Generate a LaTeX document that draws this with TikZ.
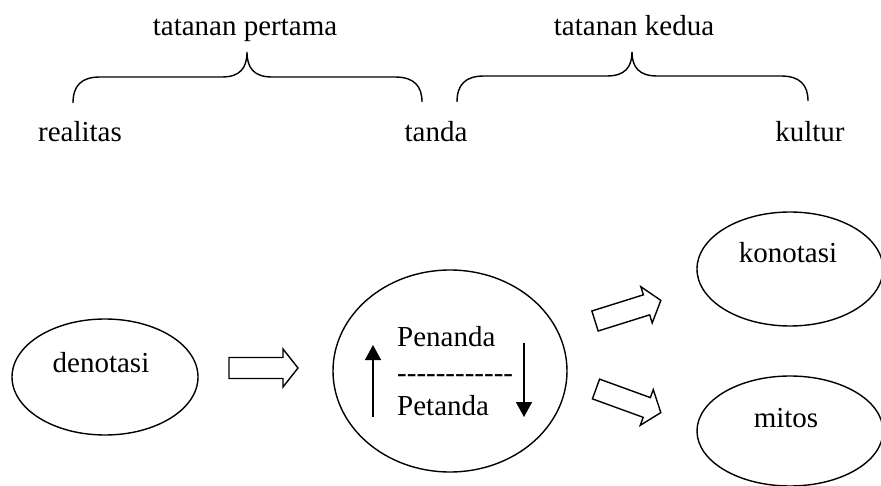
\documentclass[tikz,border=0pt]{standalone}
\usepackage{fontspec}
\setmainfont{Liberation Serif}
\usetikzlibrary{shapes.geometric,arrows.meta}
\tikzset{
  lbl/.style={anchor=base,inner sep=0pt,font=\fontsize{29}{32}\selectfont},
  lblw/.style={anchor=base west,inner sep=0pt,font=\fontsize{29}{32}\selectfont},
  oval/.style={draw,ellipse,line width=1.4pt,inner sep=0pt},
  brace/.style={draw,line width=1.4pt},
  barrow/.pic={\draw[line width=1.4pt,line join=miter] (0,-10.5)--(54,-10.5)--(54,-19)--(69,0)--(54,19)--(54,10.5)--(0,10.5)--cycle;},
  vline/.style={line width=1.4pt,-{Triangle[width=16pt,length=15pt]}}
}
\begin{document}
\begin{tikzpicture}[x=1pt,y=-1pt]
\useasboundingbox (0,0) rectangle (881,486);
\clip (0,0) rectangle (881,486);
% top labels
\node[lbl] (tp) at (245,36) {tatanan pertama};
\node[lbl] (tk) at (634,36) {tatanan kedua};
\node[lbl] (re) at (80,142) {realitas};
\node[lbl] (ta) at (436,142) {tanda};
\node[lbl] (ku) at (810,142) {kultur};
% braces
\draw[brace] (73,103) .. controls (73,86) and (81,77) .. (100,77) -- (222,77)
  .. controls (240,77) and (247,68) .. (247,52)
  .. controls (247,68) and (254,77) .. (272,77) -- (395,77)
  .. controls (414,77) and (422,86) .. (422,102);
\draw[brace] (457,102) .. controls (457,85) and (465,76) .. (484,76) -- (607,76)
  .. controls (625,76) and (632,67) .. (632,52)
  .. controls (632,67) and (639,76) .. (657,76) -- (781,76)
  .. controls (800,76) and (808,85) .. (808,101);
% ellipses
\node[oval,minimum width=186pt,minimum height=116pt] (den) at (105,377) {};
\node[lbl] (dent) at (101,372) {denotasi};
\node[oval,minimum width=234pt,minimum height=202pt] (mid) at (450,371) {};
\node[oval,minimum width=186pt,minimum height=114pt] (kon) at (790,269) {};
\node[lbl] (kont) at (788,263) {konotasi};
\node[oval,minimum width=186pt,minimum height=110pt] (mit) at (790,431) {};
\node[lbl] (mitt) at (786,427) {mitos};
% inner texts
\node[lblw] (pen) at (397,347) {Penanda};
\node[lblw] (dash) at (397,382) {-{}-{}-{}-{}-{}-{}-{}-{}-{}-{}-{}-};
\node[lblw] (pet) at (397,415) {Petanda};
\coordinate (ua1) at (373,417);
\coordinate (ua2) at (373,345);
\coordinate (da1) at (524,343);
\coordinate (da2) at (524,417);
\draw[vline] (ua1) -- (ua2);
\draw[vline] (da1) -- (da2);
% block arrows
\pic at (229,368) {barrow};
\pic[rotate=17.4] at (595,321) {barrow};
\pic[rotate=-20] at (596,389) {barrow};
\end{tikzpicture}
\end{document}
